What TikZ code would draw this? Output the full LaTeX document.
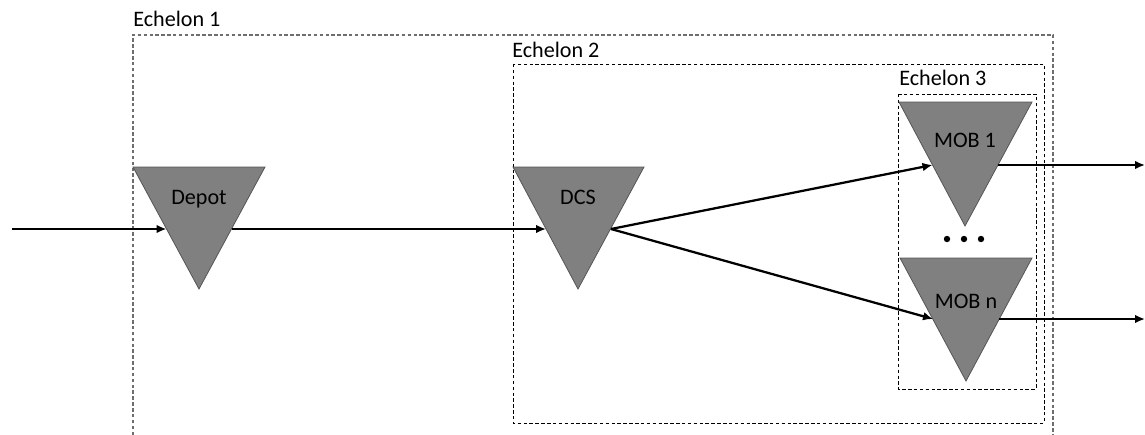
\documentclass[tikz,border=0pt]{standalone}
\usepackage{fontspec}
\setmainfont{Carlito}
\usetikzlibrary{arrows.meta}
\definecolor{trigray}{HTML}{808080}
\definecolor{triedge}{HTML}{555555}
\definecolor{ech1}{HTML}{6E6E6E}
\begin{document}
\begin{tikzpicture}[x=0.75pt,y=-0.75pt,
  tri/.style={fill=trigray,draw=triedge,line width=0.6pt,line join=miter},
  lbl/.style={font=\fontsize{16.6}{20}\selectfont,inner sep=0pt,anchor=base},
  elbl/.style={font=\fontsize{16.6}{20}\selectfont,inner sep=0pt,anchor=base west},
  echbox/.style={dash pattern=on 2.6pt off 1.8pt,line width=0.65pt},
  flow/.style={line width=1.7pt,-{Latex[length=7.5pt,width=6.5pt]}},
  dotmark/.style={circle,fill=black,inner sep=0pt,minimum size=4.8pt}
]
\useasboundingbox[fill=white] (0,0) rectangle (1145,435);

% Echelon boxes
\draw[echbox,draw=ech1,line width=0.8pt] (133,435) -- (133,35) -- (1053,35) -- (1053,435);
\draw[echbox] (513,64) rectangle (1044,423);
\draw[echbox] (898,94) rectangle (1036,389);
\node[elbl] (e1) at (133,27) {Echelon 1};
\node[elbl] (e2) at (512,58) {Echelon 2};
\node[elbl] (e3) at (899,85) {Echelon 3};

% Triangles
\draw[tri] (133,167) -- (265,167) -- (199,289) -- cycle;
\draw[tri] (513,167) -- (644,167) -- (578,289) -- cycle;
\draw[tri] (899,102) -- (1032,102) -- (965,226) -- cycle;
\draw[tri] (900,258) -- (1032,258) -- (966,381) -- cycle;

\node[lbl] (depot) at (199,204) {Depot};
\node[lbl] (dcs) at (578,204) {DCS};
\node[lbl] (mob1) at (965,147) {MOB 1};
\node[lbl] (mobn) at (966,308) {MOB n};

% connection points on triangle edges
\coordinate (src) at (12,229);
\coordinate (depotin) at (166.5,229);
\coordinate (depotout) at (231.5,229);
\coordinate (dcsin) at (546,229);
\coordinate (dcsout) at (611,229);
\coordinate (mob1in) at (932.5,165);
\coordinate (mob1out) at (997.5,165);
\coordinate (mobnin) at (933,319);
\coordinate (mobnout) at (999,319);
\coordinate (out1) at (1145,165);
\coordinate (outn) at (1145,319);

\draw[flow] (src) -- (depotin);
\draw[flow] (depotout) -- (dcsin);
\draw[flow] (dcsout) -- (mob1in);
\draw[flow] (dcsout) -- (mobnin);
\draw[flow] (mob1out) -- (out1);
\draw[flow] (mobnout) -- (outn);

% ellipsis dots
\node[dotmark] (d1) at (947,239) {};
\node[dotmark] (d2) at (964,239) {};
\node[dotmark] (d3) at (981,239) {};
\end{tikzpicture}
\end{document}
